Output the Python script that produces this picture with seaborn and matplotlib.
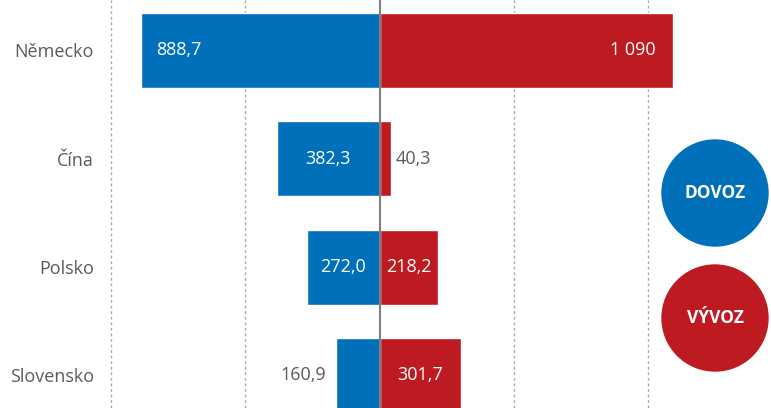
import pandas as pd
import seaborn as sns
import matplotlib.pyplot as plt
from matplotlib.patches import Ellipse

# values in bn CZK (import left, export right)
zeme = ['Německo', 'Čína', 'Polsko', 'Slovensko']
dovoz = [888.7, 382.3, 272.0, 160.9]
vyvoz = [1090.0, 40.3, 218.2, 301.7]

modra = '#0070BA'
cervena = '#BD1A22'
seda = '#5a5a5a'

sns.set_theme(style='white')
plt.rcParams['font.family'] = ['Open Sans', 'DejaVu Sans']

df = pd.DataFrame({'zeme': zeme, 'dovoz': [-v for v in dovoz], 'vyvoz': vyvoz})

fig = plt.figure(figsize=(7.71, 4.08), dpi=100)
ax = fig.add_axes([108 / 771, 0, 1 - 108 / 771, 1])

sns.barplot(data=df, x='dovoz', y='zeme', color=modra, width=0.69,
            saturation=1, ax=ax, orient='h')
sns.barplot(data=df, x='vyvoz', y='zeme', color=cervena, width=0.69,
            saturation=1, ax=ax, orient='h')

ax.set_xlim(-1011, 1456)
ax.set_ylim(3.30, -0.466)

for g in [-1000, -500, 500, 1000]:
    ax.axvline(g, color='#aaaaaa', lw=1, ls=(0, (2, 2)), zorder=0)
ax.axvline(0, color='#7f7f7f', lw=1.5, zorder=3)


def fmt(v):
    s = f'{v:,.1f}'.replace(',', ' ').replace('.', ',')
    if s.endswith(',0') and v >= 1000:
        s = s[:-2]
    return s


for i, row in df.iterrows():
    # dovoz (left)
    v = -row['dovoz']
    if v > 600:
        ax.text(-v + 58, i, fmt(v), ha='left', va='center', color='white', fontsize=13)
    elif v < 200:
        ax.text(-v - 40, i, fmt(v), ha='right', va='center', color=seda, fontsize=13)
    else:
        ax.text(-v / 2, i, fmt(v), ha='center', va='center', color='white', fontsize=13)
    # vyvoz (right)
    v = row['vyvoz']
    if v > 600:
        ax.text(v - 62, i, fmt(v), ha='right', va='center', color='white', fontsize=13)
    elif v < 200:
        ax.text(v + 20, i, fmt(v), ha='left', va='center', color=seda, fontsize=13)
    else:
        ax.text(v / 2, i, fmt(v), ha='center', va='center', color='white', fontsize=13)

ax.set_xlabel('')
ax.set_ylabel('')
ax.set_xticks([])
ax.tick_params(axis='y', length=0, pad=10, labelsize=13, labelcolor=seda)
for s in ax.spines.values():
    s.set_visible(False)

# legend circles
for yc, col, txt in [(193, modra, 'DOVOZ'), (318, cervena, 'VÝVOZ')]:
    fig.add_artist(Ellipse((715 / 771, 1 - yc / 408), 106 / 771, 106 / 408,
                           transform=fig.transFigure, color=col, zorder=5))
    fig.text(715 / 771, 1 - yc / 408, txt, ha='center', va='center', color='white',
             fontsize=12.5, fontweight='bold', zorder=6)

fig.savefig('out.png', dpi=100)
